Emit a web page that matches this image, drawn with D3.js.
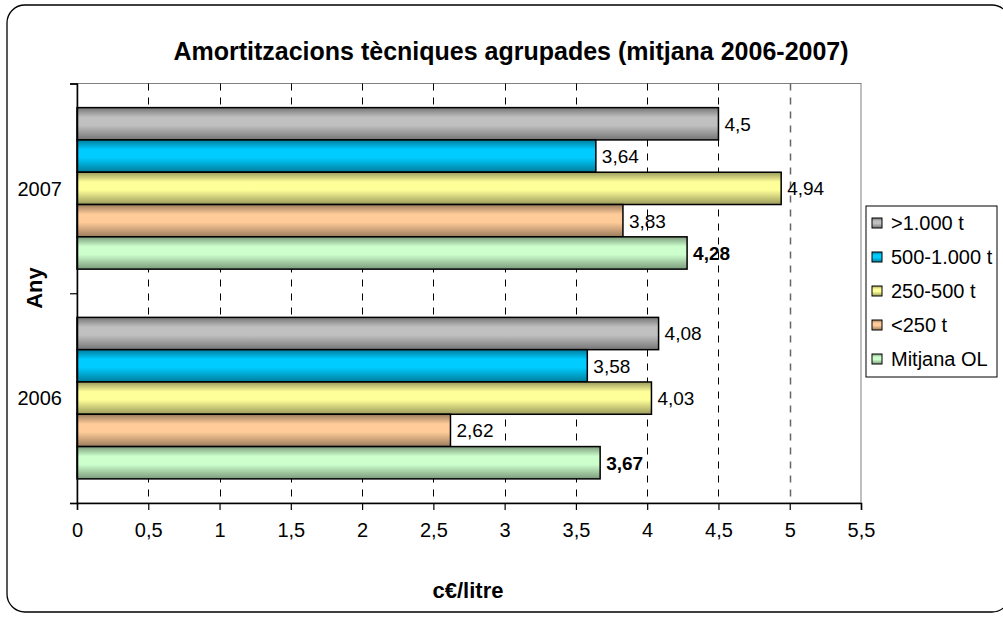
<!DOCTYPE html>
<html>
<head>
<meta charset="utf-8">
<script src="https://cdn.jsdelivr.net/npm/d3@7"></script>
<style>
  body { margin: 0; background: #fff; }
  text { font-family: Arial, "Liberation Sans", sans-serif; fill: #000; }
</style>
</head>
<body>
<div id="chart"></div>
<script>
var years = ["2007", "2006"];
var seriesNames = [">1.000 t", "500-1.000 t", "250-500 t", "<250 t", "Mitjana OL"];
var seriesColors = ["#c0c0c0", "#00ccff", "#ffff99", "#ffcc99", "#ccffcc"];
// values per series, in the order of years
var values = {
  ">1.000 t": [4.5, 4.08],
  "500-1.000 t": [3.64, 3.58],
  "250-500 t": [4.94, 4.03],
  "<250 t": [3.83, 2.62],
  "Mitjana OL": [4.28, 3.67],
};
var xTicks = [0, 0.5, 1, 1.5, 2, 2.5, 3, 3.5, 4, 4.5, 5, 5.5];

const svg = d3
  .select("#chart")
  .append("svg")
  .attr("width", 1003)
  .attr("height", 617);

const defs = svg.append("defs");
seriesColors.forEach((c, i) => {
  const dark = d3.color(c).darker(1.4);
  const g = defs
    .append("linearGradient")
    .attr("id", "grad" + i)
    .attr("x1", 0)
    .attr("y1", 0)
    .attr("x2", 0)
    .attr("y2", 1);
  g.append("stop").attr("offset", "0%").attr("stop-color", dark);
  g.append("stop").attr("offset", "30%").attr("stop-color", c);
  g.append("stop").attr("offset", "55%").attr("stop-color", c);
  g.append("stop").attr("offset", "100%").attr("stop-color", dark);
});

// chart border (right side runs off the picture)
svg
  .append("rect")
  .attr("x", 7)
  .attr("y", 5)
  .attr("width", 1003)
  .attr("height", 607)
  .attr("rx", 18)
  .attr("fill", "#fff")
  .attr("stroke", "#000")
  .attr("stroke-width", 1.3);

const xScale = d3.scaleLinear().domain([0, 5.5]).range([77, 861]);
const yScale = d3
  .scaleBand()
  .domain(years)
  .range([83.5, 503])
  .paddingInner(0.23)
  .paddingOuter(0.115);
const inner = d3
  .scaleBand()
  .domain(seriesNames)
  .range([0, yScale.bandwidth()]);

// plot area border (gray)
svg
  .append("rect")
  .attr("x", xScale(0))
  .attr("y", 83.5)
  .attr("width", xScale(5.5) - xScale(0))
  .attr("height", 503 - 83.5)
  .attr("fill", "#fff")
  .attr("stroke", "#808080")
  .attr("stroke-width", 1);

// gridlines
svg
  .append("g")
  .selectAll("line")
  .data(xTicks.filter((d) => d > 0 && d < 5.5))
  .enter()
  .append("line")
  .attr("x1", (d) => Math.round(xScale(d)) + 0.5)
  .attr("x2", (d) => Math.round(xScale(d)) + 0.5)
  .attr("y1", 83.5)
  .attr("y2", 503)
  .attr("stroke", (d) => (d === 5 ? "#666" : "#000"))
  .attr("stroke-width", (d) => (d === 5 ? 1.5 : 1))
  .attr("stroke-dasharray", "7,7");

// bars
const groups = svg
  .append("g")
  .selectAll("g")
  .data(seriesNames)
  .enter()
  .append("g");

groups
  .selectAll("rect")
  .data((s, si) => years.map((y, yi) => ({ s, si, y, v: values[s][yi] })))
  .enter()
  .append("rect")
  .attr("x", xScale(0))
  .attr("y", (d) => yScale(d.y) + inner(d.s))
  .attr("width", (d) => xScale(d.v) - xScale(0))
  .attr("height", inner.bandwidth())
  .attr("fill", (d) => "url(#grad" + d.si + ")")
  .attr("stroke", "#000")
  .attr("stroke-width", 1.5);

groups
  .selectAll("text")
  .data((s, si) => years.map((y, yi) => ({ s, si, y, v: values[s][yi] })))
  .enter()
  .append("text")
  .attr("x", (d) => xScale(d.v) + 6)
  .attr("y", (d) => yScale(d.y) + inner(d.s) + inner.bandwidth() / 2)
  .attr("dy", "0.36em")
  .style("font-size", "19px")
  .style("font-weight", (d) => (d.si === 4 ? "bold" : "normal"))
  .text((d) => String(d.v).replace(".", ","));

// axes
const xAxis = d3
  .axisBottom(xScale)
  .tickValues(xTicks)
  .tickSize(7)
  .tickPadding(13)
  .tickFormat((d) => String(d).replace(".", ","));

const xg = svg
  .append("g")
  .attr("transform", "translate(0,503)")
  .call(xAxis);
xg.select(".domain").attr("stroke", "#000").attr("stroke-width", 1.5);
xg.selectAll(".tick line").attr("stroke", "#000").attr("stroke-width", 1.2);
xg.selectAll("text")
  .style("font-size", "20px")
  .style("font-family", "Arial, 'Liberation Sans', sans-serif")
  .attr("fill", "#000");

const yAxis = d3
  .axisLeft(d3.scaleLinear().domain([0, 2]).range([503, 83.5]))
  .tickValues([0, 1, 2])
  .tickSize(7)
  .tickFormat("");
const yg = svg
  .append("g")
  .attr("transform", "translate(77,0)")
  .call(yAxis);
yg.select(".domain").attr("stroke", "#000").attr("stroke-width", 1.5);
yg.selectAll(".tick line").attr("stroke", "#000").attr("stroke-width", 1.2);

svg
  .append("g")
  .selectAll("text")
  .data(years)
  .enter()
  .append("text")
  .attr("x", 62)
  .attr("y", (d) => yScale(d) + yScale.bandwidth() / 2)
  .attr("dy", "0.36em")
  .attr("text-anchor", "end")
  .style("font-size", "20px")
  .text((d) => d);

// titles
svg
  .append("text")
  .attr("x", 511)
  .attr("y", 60)
  .attr("text-anchor", "middle")
  .style("font-size", "25px")
  .style("font-weight", "bold")
  .text("Amortitzacions tècniques agrupades (mitjana 2006-2007)");

svg
  .append("text")
  .attr("x", 468)
  .attr("y", 598)
  .attr("text-anchor", "middle")
  .style("font-size", "22px")
  .style("font-weight", "bold")
  .text("c€/litre");

svg
  .append("text")
  .attr("transform", "translate(42,288) rotate(-90)")
  .attr("text-anchor", "middle")
  .style("font-size", "22px")
  .style("font-weight", "bold")
  .text("Any");

// legend
const legend = svg.append("g").attr("id", "legend");
legend
  .append("rect")
  .attr("x", 866)
  .attr("y", 206)
  .attr("width", 131)
  .attr("height", 171)
  .attr("fill", "#fff")
  .attr("stroke", "#000")
  .attr("stroke-width", 1);

const items = legend
  .selectAll("g")
  .data(seriesNames)
  .enter()
  .append("g")
  .attr("transform", (d, i) => `translate(872,${223 + i * 34})`);

items
  .append("rect")
  .attr("x", 0)
  .attr("y", -5)
  .attr("width", 10)
  .attr("height", 10)
  .attr("fill", (d, i) => "url(#grad" + i + ")")
  .attr("stroke", "#000")
  .attr("stroke-width", 1);

items
  .append("text")
  .attr("x", 19)
  .attr("y", 0)
  .attr("dy", "0.36em")
  .style("font-size", "20px")
  .text((d) => d);
</script>
</body>
</html>
